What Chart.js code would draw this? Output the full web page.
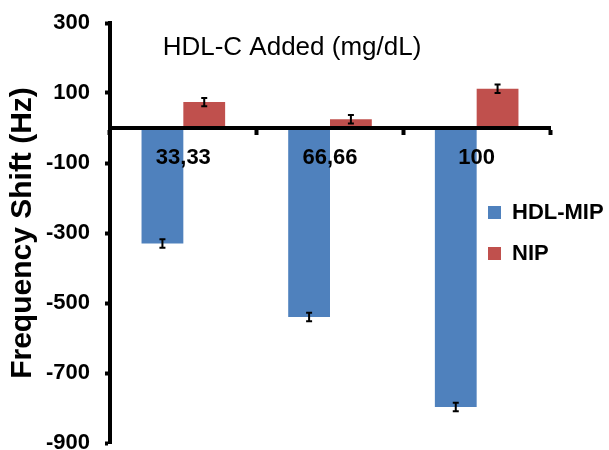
<!DOCTYPE html>
<html lang="en">
<head>
  <meta charset="UTF-8">
  <title>HDL-C Added</title>
  <script src="https://cdn.jsdelivr.net/npm/chart.js"></script>
  <style>
    body { margin: 0; background: #fff; }
    #wrap { width: 609px; height: 450px; position: relative; }
  </style>
</head>
<body>
  <div id="wrap"><canvas id="hdlChart"></canvas></div>

  <script>
    // values
    const categories = ['33,33', '66,66', '100'];
    const mipValues = [-330, -540, -797];
    const mipErrors = [12, 12, 12];
    const nipValues = [74, 25, 112];
    const nipErrors = [12, 12, 12];
    const yTicks = [-900, -700, -500, -300, -100, 100, 300];

    const FONT = '"Liberation Sans", Arial, sans-serif';

    // small I-beam error bars, positioned with the chart's own scales
    const errorBars = {
      id: 'errorBars',
      afterDatasetsDraw(chart) {
        const ctx = chart.ctx;
        const yScale = chart.scales.y;
        ctx.save();
        ctx.strokeStyle = '#000';
        ctx.lineWidth = 2;
        chart.data.datasets.forEach((ds, i) => {
          const meta = chart.getDatasetMeta(i);
          meta.data.forEach((bar, j) => {
            const v = ds.data[j];
            const e = ds.errors[j];
            const top = yScale.getPixelForValue(v + e);
            const bot = yScale.getPixelForValue(v - e);
            ctx.beginPath();
            ctx.moveTo(bar.x, top);
            ctx.lineTo(bar.x, bot);
            ctx.moveTo(bar.x - 3, top);
            ctx.lineTo(bar.x + 3, top);
            ctx.moveTo(bar.x - 3, bot);
            ctx.lineTo(bar.x + 3, bot);
            ctx.stroke();
          });
        });
        ctx.restore();
      }
    };

    // title and legend sit inside the plot area in the original
    const overlay = {
      id: 'overlay',
      afterDraw(chart) {
        const ctx = chart.ctx;
        ctx.save();
        ctx.fillStyle = '#000';
        ctx.font = '26px ' + FONT;
        ctx.textAlign = 'center';
        ctx.textBaseline = 'alphabetic';
        ctx.fillText('HDL-C Added (mg/dL)', 292, 55);

        ctx.font = 'bold 22px ' + FONT;
        ctx.textAlign = 'left';
        ctx.textBaseline = 'middle';
        chart.data.datasets.forEach((ds, i) => {
          const cy = 212 + i * 41;
          ctx.fillStyle = ds.backgroundColor;
          ctx.fillRect(488, cy - 6, 13, 13);
          ctx.fillStyle = '#000';
          ctx.fillText(ds.label, 512, cy + 1);
        });
        ctx.restore();
      }
    };

    const ctx = document.getElementById('hdlChart').getContext('2d');
    new Chart(ctx, {
      type: 'bar',
      data: {
        labels: categories,
        datasets: [
          { label: 'HDL-MIP', data: mipValues, errors: mipErrors, backgroundColor: '#4F81BD' },
          { label: 'NIP', data: nipValues, errors: nipErrors, backgroundColor: '#C0504D' }
        ]
      },
      options: {
        responsive: true,
        maintainAspectRatio: false,
        animation: false,
        layout: { padding: { left: 0, right: 59, top: 23, bottom: 7 } },
        datasets: { bar: { categoryPercentage: 0.57, barPercentage: 1 } },
        plugins: {
          legend: { display: false },
          title: { display: false },
          tooltip: { enabled: false }
        },
        scales: {
          x: {
            position: { y: 0 },
            offset: true,
            grid: {
              offset: true,
              drawOnChartArea: false,
              tickLength: 5,
              tickWidth: 4,
              tickColor: '#000',
              z: 1
            },
            border: { color: '#000', width: 4, z: 1 },
            ticks: {
              color: '#000',
              padding: 12,
              z: 1,
              font: { family: FONT, size: 22, weight: 'bold' }
            }
          },
          y: {
            min: -900,
            max: 300,
            afterBuildTicks(scale) {
              scale.ticks = yTicks.map(v => ({ value: v }));
            },
            afterFit(scale) {
              scale.width = 110;
              scale.paddingTop = 0;
              scale.paddingBottom = 0;
            },
            grid: {
              drawOnChartArea: false,
              tickLength: 5,
              tickWidth: 4,
              tickColor: '#000'
            },
            border: { color: '#000', width: 4 },
            ticks: {
              color: '#000',
              padding: 15,
              font: { family: FONT, size: 22, weight: 'bold' }
            },
            title: {
              display: true,
              text: 'Frequency Shift (Hz)',
              color: '#000',
              padding: { top: 5, bottom: 0 },
              font: { family: FONT, size: 30, weight: 'bold' }
            }
          }
        }
      },
      plugins: [errorBars, overlay]
    });
  </script>
</body>
</html>
